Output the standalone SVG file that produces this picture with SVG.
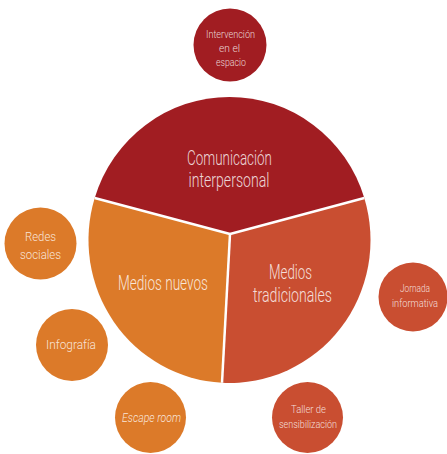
<svg xmlns="http://www.w3.org/2000/svg" width="447" height="454" viewBox="0 0 447 454">
<style>
.red{fill:#a11d22}
.rust{fill:#c94e31}
.orange{fill:#dc7a29}
text{font-family:"Roboto","Liberation Sans",sans-serif;font-weight:300;fill:#ffffff;fill-opacity:0.82;text-anchor:middle}
.big{font-size:20px}
.sm{font-size:10px}
.md{font-size:12.5px}
</style>
<rect width="447" height="454" fill="#ffffff"/>
<g id="main-circle">
  <g id="comunicacion-interpersonal">
    <path class="red" d="M230 234 L94.7 198 A141 143 0 0 1 364.3 198 Z"/>
    <text class="big" x="229.5" y="165" textLength="85" lengthAdjust="spacingAndGlyphs">Comunicación</text>
    <text class="big" x="229" y="187" textLength="81" lengthAdjust="spacingAndGlyphs">interpersonal</text>
  </g>
  <g id="medios-tradicionales">
    <path class="rust" d="M230 234 L364.3 198 A141 143 0 0 1 222 382.8 Z"/>
    <text class="big" x="290.5" y="279" textLength="43" lengthAdjust="spacingAndGlyphs">Medios</text>
    <text class="big" x="292.5" y="302" textLength="79" lengthAdjust="spacingAndGlyphs">tradicionales</text>
  </g>
  <g id="medios-nuevos">
    <path class="orange" d="M230 234 L222 382.8 A141 143 0 0 1 94.7 198 Z"/>
    <text class="big" x="163" y="290" textLength="90" lengthAdjust="spacingAndGlyphs">Medios nuevos</text>
  </g>
</g>
<g id="connectors" stroke="#ffffff" stroke-width="2.5" fill="none">
  <line x1="230" y1="234" x2="94.7" y2="198"/>
  <line x1="230" y1="234" x2="364.3" y2="198"/>
  <line x1="230" y1="234" x2="222" y2="382.8"/>
</g>
<g id="intervencion">
  <circle class="red" cx="230" cy="45" r="36.5"/>
  <text class="sm" x="230.5" y="38" textLength="49" lengthAdjust="spacingAndGlyphs">Intervención</text>
  <text class="sm" x="229.5" y="52" textLength="21" lengthAdjust="spacingAndGlyphs">en el</text>
  <text class="sm" x="231" y="66" textLength="30" lengthAdjust="spacingAndGlyphs">espacio</text>
</g>
<g id="redes-sociales">
  <circle class="orange" cx="40.5" cy="243.5" r="36"/>
  <text class="md" x="40.5" y="241" textLength="31" lengthAdjust="spacingAndGlyphs">Redes</text>
  <text class="md" x="40.5" y="259" textLength="41" lengthAdjust="spacingAndGlyphs">sociales</text>
</g>
<g id="infografia">
  <circle class="orange" cx="72" cy="345" r="36"/>
  <text class="md" x="71" y="349" textLength="50" lengthAdjust="spacingAndGlyphs">Infografía</text>
</g>
<g id="escape-room">
  <circle class="orange" cx="150.5" cy="417.5" r="35.5"/>
  <text class="md" x="151.5" y="422" font-style="italic" textLength="59" lengthAdjust="spacingAndGlyphs">Escape room</text>
</g>
<g id="taller">
  <circle class="rust" cx="307.5" cy="417.5" r="35.5"/>
  <text class="sm" x="308.5" y="413" textLength="35" lengthAdjust="spacingAndGlyphs">Taller de</text>
  <text class="sm" x="308" y="428" textLength="58" lengthAdjust="spacingAndGlyphs">sensibilización</text>
</g>
<g id="jornada">
  <circle class="rust" cx="413" cy="297" r="34.5"/>
  <text class="sm" x="415" y="292" textLength="30" lengthAdjust="spacingAndGlyphs">Jornada</text>
  <text class="sm" x="415" y="307" textLength="46" lengthAdjust="spacingAndGlyphs">informativa</text>
</g>
</svg>
